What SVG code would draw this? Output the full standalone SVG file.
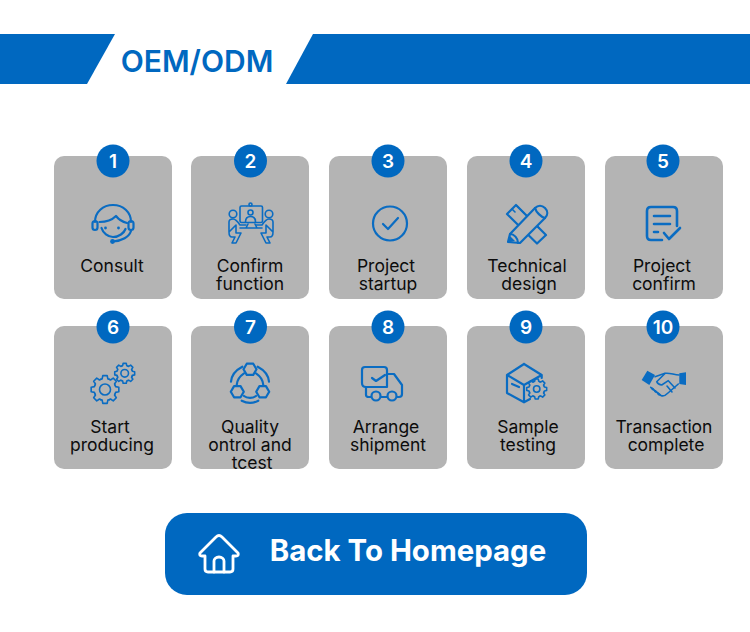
<svg xmlns="http://www.w3.org/2000/svg" xmlns:xlink="http://www.w3.org/1999/xlink" width="750" height="632" viewBox="0 0 750 632">
<style>
.band{fill:#0068c0}
.card{fill:#b4b4b4}
.badge{fill:#0068c0}
.num{font-family:"Inter","Liberation Sans",sans-serif;font-size:19px;font-weight:600;fill:#fff;text-anchor:middle}
.lbl{font-family:"Inter","Liberation Sans",sans-serif;font-size:17.5px;fill:#0c0c0c;text-anchor:middle}
.ic{fill:none;stroke:#0a6cc2;stroke-width:2.2;stroke-linecap:round;stroke-linejoin:round}
.ict{fill:none;stroke:#0a6cc2;stroke-width:1.6;stroke-linecap:round;stroke-linejoin:round}
.fl{fill:#0a6cc2}
</style>
<defs>
<path id="tooth" d="M-4.210,-10.160L-2.850,-10.630L-2.190,-13.830L2.190,-13.830L2.850,-10.630L4.210,-10.160"/>
<g id="gear">
<use href="#tooth"/><use href="#tooth" transform="rotate(45)"/><use href="#tooth" transform="rotate(90)"/><use href="#tooth" transform="rotate(135)"/>
<use href="#tooth" transform="rotate(180)"/><use href="#tooth" transform="rotate(225)"/><use href="#tooth" transform="rotate(270)"/><use href="#tooth" transform="rotate(315)"/>
</g>
<polygon id="hex" points="-6.500,0 -3.250,-5.600 3.250,-5.600 6.500,0 3.250,5.600 -3.250,5.600"/>
</defs>
<rect width="750" height="632" fill="#fff"/>
<g id="banner">
<polygon class="band" points="0,34 115,34 87,84 0,84"/>
<polygon class="band" points="313,34 750,34 750,84 286,84"/>
<text x="197" y="72" font-family="Inter,'Liberation Sans',sans-serif" font-size="30px" font-weight="600" fill="#0068c0" text-anchor="middle">OEM/ODM</text>
</g>
<g id="node1">
<rect class="card" x="54" y="156" width="118" height="143" rx="10"/>
<circle class="badge" cx="113" cy="161" r="16.500"/><text class="num" x="113" y="168">1</text>
<path class="ic" d="M95,222C95,212 103,205 113,205C123,205 131,212 131,222"/>
<rect class="ic" x="92.500" y="221" width="5" height="9" rx="2.500"/><rect class="ic" x="128.500" y="221" width="5" height="9" rx="2.500"/>
<path class="ic" d="M99.500,222C107,222 112,220 116,216C119,220 123,222 127,223M101.500,228C103,233 108,237 113,237C119,237 124,233 125.500,229"/>
<path class="ic" d="M131,231C129,237 122,241 113,241.500"/>
<circle class="fl" cx="112.500" cy="241.500" r="2.400"/><circle class="fl" cx="105.500" cy="228" r="1.400"/><circle class="fl" cx="118.500" cy="228" r="1.400"/>
<text class="lbl" x="112" y="272">Consult</text>
</g>
<g id="node2">
<rect class="card" x="191" y="156" width="118" height="143" rx="10"/>
<circle class="badge" cx="250.500" cy="161" r="16.500"/><text class="num" x="250.500" y="168">2</text>
<rect class="ict" x="240" y="206" width="22.500" height="16.500" rx="1.500"/>
<circle class="ict" cx="250.500" cy="204.500" r="1.500" style="fill:#b4b4b4"/>
<circle class="ict" cx="250.500" cy="212.500" r="2.500"/><path class="ict" d="M245.500,222C245.500,218 248,216.500 250.500,216.500C253,216.500 255.500,218 255.500,222"/>
<circle class="ict" cx="233" cy="214" r="3.800"/><circle class="ict" cx="269" cy="214" r="3.800"/>
<path class="ict" d="M229,232V222C229,220 231,219 233,219C236,219 238,222 240,225H246M236,225V233H241L236,243H232L235,237H232C230,237 229,235 229,232Z"/>
<path class="ict" d="M273,232V222C273,220 271,219 269,219C266,219 264,222 262,225H256M266,225V233H261L266,243H270L267,237H270C272,237 273,235 273,232Z"/>
<path class="ict" d="M240,228H262M246,228L248,224M255,224L257,228"/>
<text class="lbl"><tspan x="250" y="272">Confirm</tspan><tspan x="250" y="290">function</tspan></text>
</g>
<g id="node3">
<rect class="card" x="329" y="156" width="118" height="143" rx="10"/>
<circle class="badge" cx="388" cy="161" r="16.500"/><text class="num" x="388" y="168">3</text>
<circle class="ic" cx="390" cy="223.500" r="17"/>
<path class="ic" d="M383,224L388,229L398,218"/>
<text class="lbl"><tspan x="386" y="272">Project</tspan><tspan x="388" y="290">startup</tspan></text>
</g>
<g id="node4">
<rect class="card" x="467" y="156" width="118" height="143" rx="10"/>
<circle class="badge" cx="526" cy="161" r="16.500"/><text class="num" x="526" y="168">4</text>
<path class="ic" d="M507,214L516,205L546,235L537,243.500Z"/>
<path class="ict" d="M512,209L515,212M517,206L520,209M521,210L524,213M531,220L534,223M536,225L539,228"/>
<path class="ic" d="M508,242L510,234L535,208C538,205 542,205 545,208C548,211 548,215 545,218L520,243Z" style="fill:#b4b4b4"/>
<path class="ic" d="M510,234C514,234 518,238 518,243M535,208C536,212 541,217 545,218"/>
<path class="fl" d="M508,242.500L510,236L515,241Z"/>
<text class="lbl"><tspan x="527" y="272">Technical</tspan><tspan x="529" y="290">design</tspan></text>
</g>
<g id="node5">
<rect class="card" x="605" y="156" width="118" height="143" rx="10"/>
<circle class="badge" cx="663" cy="161" r="16.500"/><text class="num" x="663" y="168">5</text>
<path class="ic" style="stroke-width:2.600" d="M662,240H651C648,240 647,238 647,236V211C647,208 649,207 651,207H673C676,207 677,209 677,211V226"/>
<path class="ic" style="stroke-width:2.600" d="M654,216H670M654,224H670M654,232H658"/>
<path class="ic" style="stroke-width:2.600" d="M664,233L669,239L680,228"/>
<text class="lbl"><tspan x="662" y="272">Project</tspan><tspan x="664" y="290">confirm</tspan></text>
</g>
<g id="node6">
<rect class="card" x="54" y="326" width="118" height="143" rx="10"/>
<circle class="badge" cx="113" cy="327" r="16.500"/><text class="num" x="113" y="334">6</text>
<use href="#gear" class="ict" transform="translate(105,389.500)"/>
<circle class="ict" cx="105" cy="389.500" r="5.500"/>
<use href="#gear" class="ict" style="stroke-width:2.200" transform="translate(124.700,373.300) scale(.72)"/>
<circle class="ict" cx="124.700" cy="373.300" r="3.800"/>
<text class="lbl"><tspan x="110" y="433">Start</tspan><tspan x="112" y="451">producing</tspan></text>
</g>
<g id="node7">
<rect class="card" x="191" y="326" width="118" height="143" rx="10"/>
<circle class="badge" cx="250.500" cy="327" r="16.500"/><text class="num" x="250.500" y="334">7</text>
<use href="#hex" class="ic" transform="translate(250,369.300)"/>
<use href="#hex" class="ic" transform="translate(237.300,391.700)"/>
<use href="#hex" class="ic" transform="translate(262.700,391.700)"/>
<path class="ic" d="M236.700,385C237,380 240,376 244,373.300M263.300,385C263,380 260,376 256,373.300M244,396C247,398.500 253,398.500 256,396"/>
<path class="ic" d="M231,381.700C231.500,375 236,370 242.300,366.700M269,381.700C268.500,375 264,370 257.700,366.700M241.700,400.700C247,403.500 253,403.500 258.300,400.700"/>
<text class="lbl"><tspan x="250" y="433">Quality</tspan><tspan x="250" y="451">ontrol and</tspan><tspan x="252" y="469">tcest</tspan></text>
</g>
<g id="node8">
<rect class="card" x="329" y="326" width="118" height="143" rx="10"/>
<circle class="badge" cx="388" cy="327" r="16.500"/><text class="num" x="388" y="334">8</text>
<path class="ic" d="M365,367H384C386,367 387,368 387,370V387H366C363,387 362,385 362,383V370C362,368 363,367 365,367Z"/>
<path class="ic" d="M372,378L376,381L385,375"/>
<path class="ic" d="M387,374H394L402,385V394C402,396 401,397 399,397H397M366,387V395C366,396 367,397 369,397H371M381,397H387"/>
<circle class="ic" cx="376" cy="396" r="4.500"/><circle class="ic" cx="392" cy="396" r="4.500"/>
<text class="lbl"><tspan x="386" y="433">Arrange</tspan><tspan x="388" y="451">shipment</tspan></text>
</g>
<g id="node9">
<rect class="card" x="467" y="326" width="118" height="143" rx="10"/>
<circle class="badge" cx="526" cy="327" r="16.500"/><text class="num" x="526" y="334">9</text>
<path class="ic" d="M524,364L507,375V393L524,402.300L530,399M524,364L541.700,375M507,375L524,385V402.300M524,385L541.700,375V378"/>
<path class="ic" d="M512,384L519,387"/>
<use href="#gear" class="ict" style="stroke-width:2.200" transform="translate(536.700,389) scale(.72)"/>
<circle class="ict" cx="536.700" cy="389" r="3.200"/>
<text class="lbl"><tspan x="528" y="433">Sample</tspan><tspan x="528" y="451">testing</tspan></text>
</g>
<g id="node10">
<rect class="card" x="605" y="326" width="118" height="143" rx="10"/>
<circle class="badge" cx="663" cy="327" r="16.500"/><text class="num" x="663" y="334">10</text>
<polygon class="fl" points="647.300,370.700 655,375 649.300,385 641.700,380"/>
<polygon class="fl" points="679.300,373.300 686,372.300 686,385 679.300,384"/>
<path class="ict" d="M655,376.700L665,373.300C670,372.500 674,375 679,375M650.700,387.300L661,395.500C664,397 666,395 668,393L678.300,384"/>
<path class="ict" d="M665,373.500L656.700,381.700C658,384.500 660,385 661.700,385L668.300,380.700L675,388M667,386L672,392"/>
<path class="ic" d="M652,388.500L661,396" stroke-dasharray="1.500 2.500"/>
<text class="lbl"><tspan x="664" y="433">Transaction</tspan><tspan x="666" y="451">complete</tspan></text>
</g>
<g id="button">
<rect x="165" y="513" width="422" height="82" rx="22" class="band"/>
<g fill="none" stroke="#fff" stroke-width="2.800" stroke-linecap="round" stroke-linejoin="round">
<path d="M200,553L216,537C218,535 220,535 222,537L238,553C239,555 238,556 236,556H233V569C233,571 232,572 230,572H208C206,572 205,571 205,569V556H202C200,556 199,555 200,553Z"/>
<path d="M214,572V561C214,559 216,557 219,557C222,557 224,559 224,561V572"/>
</g>
<text x="408" y="561" font-family="Inter,'Liberation Sans',sans-serif" font-size="29.400px" font-weight="700" fill="#fff" text-anchor="middle">Back To Homepage</text>
</g>
<g id="connectors"/>
</svg>
